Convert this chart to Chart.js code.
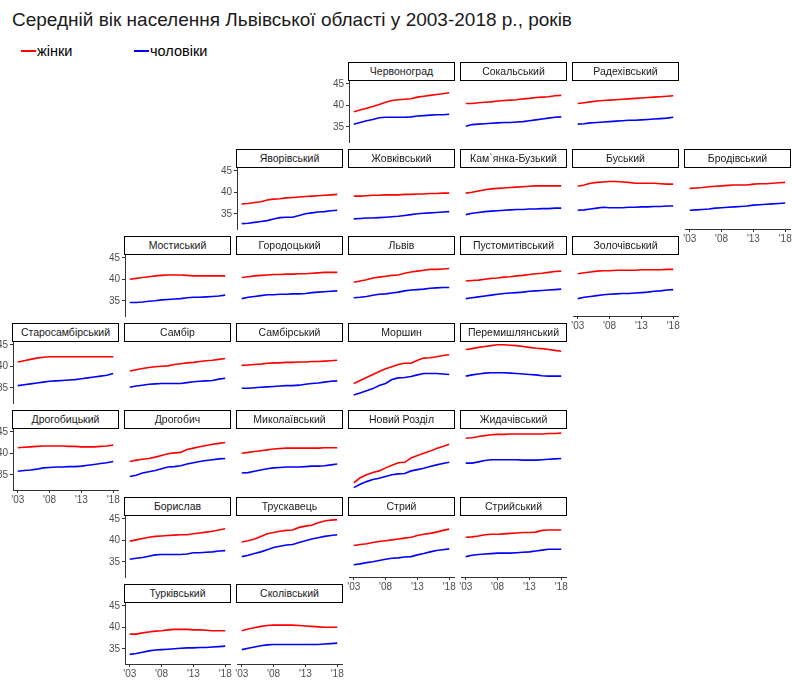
<!DOCTYPE html>
<html lang="uk">
<head>
<meta charset="UTF-8">
<title>Середній вік населення Львівської області</title>
<script src="https://cdn.jsdelivr.net/npm/chart.js"></script>
<style>
    body { margin: 0; background: #fff; font-family: "Liberation Sans", Arial, sans-serif; }
    #page { position: relative; width: 792px; height: 680px; overflow: hidden; }
    h1 { position: absolute; left: 12px; top: 9px; margin: 0; font-size: 19px; font-weight: normal; color: #1a1a1a; white-space: nowrap; }
    .legend { position: absolute; top: 43px; font-size: 14.5px; color: #000; white-space: nowrap; }
    .legend i { display: inline-block; width: 15px; height: 2px; vertical-align: middle; margin-right: 1px; position: relative; top: -1px; }
    .strip { position: absolute; box-sizing: border-box; width: 107px; height: 19px; border: 1px solid #000;
             background: #fff; font-size: 10.5px; color: #1a1a1a; text-align: center; line-height: 17px; z-index: 2; white-space: nowrap; }
    canvas { position: absolute; }
</style>
</head>
<body>
<div id="page">
    <h1>Середній вік населення Львівської області у 2003-2018 р., років</h1>
    <div class="legend" style="left:21px"><i style="background:#ff0000"></i>жінки</div>
    <div class="legend" style="left:134px"><i style="background:#0000ff"></i>чоловіки</div>
</div>

<script>
    // data
    const years = [2003, 2004, 2005, 2006, 2007, 2008, 2009, 2010, 2011, 2012, 2013, 2014, 2015, 2016, 2017, 2018];
    const xTicks = [2003, 2008, 2013, 2018];
    const yTicks = [35, 40, 45];

    const districts = [
        "Червоноград", "Сокальський", "Радехівський",
        "Яворівський", "Жовківський", "Кам`янка-Бузький", "Буський", "Бродівський",
        "Мостиський", "Городоцький", "Львів", "Пустомитівський", "Золочівський",
        "Старосамбірський", "Самбір", "Самбірський", "Моршин", "Перемишлянський",
        "Дрогобицький", "Дрогобич", "Миколаївський", "Новий Розділ", "Жидачівський",
        "Борислав", "Трускавець", "Стрий", "Стрийський",
        "Турківський", "Сколівський"
    ];

    // жінки
    const women = [
        [38.5, 38.9, 39.3, 39.7, 40.2, 40.7, 41.1, 41.3, 41.4, 41.5, 41.9, 42.1, 42.3, 42.5, 42.7, 42.9],
        [40.4, 40.4, 40.6, 40.7, 40.8, 41.0, 41.1, 41.2, 41.3, 41.5, 41.6, 41.8, 41.9, 42.0, 42.2, 42.3],
        [40.4, 40.6, 40.8, 41.0, 41.1, 41.2, 41.3, 41.4, 41.5, 41.6, 41.7, 41.8, 41.9, 42.0, 42.1, 42.2],
        [37.3, 37.4, 37.6, 37.8, 38.2, 38.4, 38.5, 38.7, 38.8, 38.9, 39.0, 39.1, 39.2, 39.3, 39.4, 39.5],
        [39.1, 39.1, 39.2, 39.3, 39.3, 39.4, 39.4, 39.4, 39.5, 39.5, 39.6, 39.6, 39.7, 39.7, 39.8, 39.8],
        [39.8, 40.0, 40.3, 40.6, 40.8, 40.9, 41.0, 41.1, 41.2, 41.3, 41.4, 41.5, 41.5, 41.5, 41.5, 41.5],
        [41.4, 41.7, 42.1, 42.3, 42.4, 42.5, 42.5, 42.4, 42.3, 42.1, 42.1, 42.1, 42.1, 42.0, 41.9, 41.9],
        [40.9, 41.0, 41.1, 41.3, 41.4, 41.5, 41.6, 41.7, 41.7, 41.7, 41.9, 42.0, 42.0, 42.1, 42.2, 42.3],
        [40.0, 40.2, 40.4, 40.6, 40.8, 40.9, 41.0, 41.0, 41.0, 40.9, 40.8, 40.8, 40.8, 40.8, 40.8, 40.8],
        [40.4, 40.6, 40.8, 40.9, 41.0, 41.1, 41.1, 41.2, 41.2, 41.3, 41.3, 41.4, 41.5, 41.6, 41.6, 41.6],
        [39.3, 39.6, 39.9, 40.3, 40.5, 40.7, 40.9, 41.0, 41.4, 41.7, 41.9, 42.1, 42.3, 42.3, 42.4, 42.5],
        [39.6, 39.7, 39.8, 40.0, 40.2, 40.3, 40.5, 40.6, 40.8, 40.9, 41.1, 41.3, 41.4, 41.6, 41.8, 41.9],
        [41.3, 41.5, 41.7, 41.9, 42.0, 42.0, 42.1, 42.1, 42.1, 42.1, 42.2, 42.2, 42.2, 42.2, 42.3, 42.3],
        [41.0, 41.3, 41.6, 41.9, 42.1, 42.2, 42.2, 42.2, 42.2, 42.2, 42.2, 42.2, 42.2, 42.2, 42.2, 42.2],
        [38.9, 39.2, 39.5, 39.7, 39.9, 40.0, 40.1, 40.4, 40.6, 40.8, 40.9, 41.1, 41.3, 41.4, 41.6, 41.8],
        [40.2, 40.3, 40.4, 40.5, 40.7, 40.8, 40.8, 40.9, 40.9, 41.0, 41.0, 41.1, 41.1, 41.2, 41.3, 41.4],
        [36.0, 36.7, 37.4, 38.1, 38.8, 39.4, 39.9, 40.4, 40.7, 40.7, 41.4, 41.9, 42.0, 42.2, 42.5, 42.7],
        [43.9, 44.1, 44.4, 44.6, 44.8, 45.0, 45.0, 44.9, 44.8, 44.6, 44.4, 44.2, 44.1, 43.9, 43.7, 43.5],
        [41.3, 41.4, 41.5, 41.6, 41.7, 41.7, 41.7, 41.7, 41.6, 41.6, 41.5, 41.5, 41.5, 41.6, 41.7, 41.9],
        [38.1, 38.4, 38.6, 38.8, 39.1, 39.5, 39.9, 40.1, 40.2, 40.9, 41.2, 41.5, 41.8, 42.1, 42.3, 42.5],
        [40.0, 40.2, 40.4, 40.6, 40.8, 41.0, 41.1, 41.2, 41.2, 41.2, 41.2, 41.2, 41.2, 41.3, 41.3, 41.3],
        [33.1, 34.3, 35.0, 35.5, 35.9, 36.6, 37.2, 37.8, 37.9, 38.9, 39.5, 40.0, 40.5, 41.1, 41.6, 42.1],
        [43.5, 43.6, 43.9, 44.1, 44.3, 44.4, 44.4, 44.5, 44.5, 44.5, 44.5, 44.5, 44.5, 44.6, 44.6, 44.7],
        [39.8, 40.1, 40.4, 40.7, 40.9, 41.0, 41.1, 41.2, 41.3, 41.3, 41.5, 41.7, 41.9, 42.1, 42.4, 42.7],
        [39.6, 39.9, 40.3, 40.9, 41.5, 41.8, 42.1, 42.3, 42.4, 43.0, 43.3, 43.5, 44.1, 44.5, 44.7, 44.8],
        [38.8, 39.0, 39.2, 39.5, 39.7, 39.9, 40.1, 40.3, 40.5, 40.7, 41.1, 41.4, 41.6, 41.9, 42.3, 42.6],
        [40.7, 40.8, 41.0, 41.3, 41.4, 41.4, 41.5, 41.6, 41.7, 41.8, 41.8, 41.9, 42.3, 42.4, 42.4, 42.4],
        [38.4, 38.4, 38.7, 38.9, 39.1, 39.2, 39.4, 39.5, 39.5, 39.5, 39.4, 39.4, 39.3, 39.2, 39.2, 39.2],
        [39.2, 39.6, 39.9, 40.2, 40.4, 40.5, 40.5, 40.5, 40.5, 40.4, 40.3, 40.2, 40.1, 40.0, 40.0, 40.0]
    ];

    // чоловіки
    const men = [
        [35.6, 36.0, 36.4, 36.7, 37.1, 37.2, 37.2, 37.2, 37.2, 37.3, 37.5, 37.6, 37.7, 37.8, 37.8, 37.9],
        [35.1, 35.5, 35.6, 35.7, 35.8, 35.9, 36.0, 36.0, 36.1, 36.2, 36.4, 36.6, 36.8, 37.0, 37.2, 37.3],
        [35.6, 35.7, 35.9, 36.0, 36.1, 36.2, 36.3, 36.4, 36.5, 36.5, 36.6, 36.7, 36.8, 36.9, 37.0, 37.2],
        [32.7, 32.8, 33.0, 33.2, 33.4, 33.8, 34.1, 34.2, 34.2, 34.6, 35.0, 35.2, 35.4, 35.5, 35.7, 35.8],
        [33.8, 33.9, 34.0, 34.0, 34.1, 34.2, 34.3, 34.4, 34.6, 34.8, 35.0, 35.1, 35.2, 35.3, 35.4, 35.5],
        [34.8, 35.1, 35.3, 35.5, 35.6, 35.7, 35.8, 35.9, 36.0, 36.0, 36.1, 36.1, 36.2, 36.2, 36.3, 36.3],
        [35.8, 35.9, 36.1, 36.3, 36.5, 36.4, 36.4, 36.4, 36.5, 36.5, 36.6, 36.6, 36.7, 36.7, 36.8, 36.8],
        [35.8, 35.9, 36.0, 36.1, 36.3, 36.4, 36.5, 36.6, 36.7, 36.8, 37.0, 37.1, 37.2, 37.3, 37.4, 37.5],
        [34.6, 34.6, 34.7, 34.9, 35.0, 35.2, 35.3, 35.4, 35.5, 35.7, 35.8, 35.8, 35.9, 36.0, 36.1, 36.3],
        [35.5, 35.8, 36.0, 36.2, 36.4, 36.4, 36.5, 36.5, 36.6, 36.6, 36.7, 36.9, 37.0, 37.1, 37.2, 37.3],
        [35.7, 35.8, 36.0, 36.3, 36.5, 36.6, 36.8, 37.0, 37.3, 37.5, 37.6, 37.7, 37.9, 38.0, 38.1, 38.1],
        [35.5, 35.7, 35.9, 36.1, 36.3, 36.5, 36.7, 36.8, 36.9, 37.0, 37.2, 37.3, 37.4, 37.5, 37.6, 37.7],
        [35.5, 35.8, 36.0, 36.2, 36.4, 36.5, 36.6, 36.7, 36.7, 36.8, 36.9, 37.0, 37.2, 37.3, 37.5, 37.6],
        [35.5, 35.7, 35.9, 36.1, 36.3, 36.5, 36.6, 36.7, 36.8, 36.9, 37.1, 37.3, 37.5, 37.7, 37.9, 38.3],
        [35.1, 35.4, 35.6, 35.8, 35.9, 36.0, 36.0, 36.0, 36.0, 36.2, 36.4, 36.5, 36.6, 36.7, 37.0, 37.2],
        [34.9, 34.9, 35.0, 35.1, 35.2, 35.3, 35.4, 35.5, 35.5, 35.6, 35.8, 36.0, 36.1, 36.3, 36.5, 36.6],
        [33.3, 33.8, 34.3, 34.8, 35.5, 36.0, 36.9, 37.3, 37.4, 37.6, 38.0, 38.3, 38.3, 38.3, 38.2, 38.1],
        [37.7, 38.0, 38.2, 38.4, 38.5, 38.5, 38.5, 38.4, 38.3, 38.2, 38.1, 38.0, 37.8, 37.7, 37.7, 37.7],
        [35.8, 36.0, 36.1, 36.3, 36.6, 36.7, 36.8, 36.8, 36.9, 36.9, 37.0, 37.2, 37.4, 37.6, 37.8, 38.1],
        [34.6, 34.9, 35.4, 35.7, 36.0, 36.4, 36.8, 36.9, 37.1, 37.5, 37.8, 38.1, 38.3, 38.5, 38.7, 38.8],
        [35.4, 35.5, 35.8, 36.1, 36.4, 36.6, 36.7, 36.8, 36.8, 36.8, 36.9, 37.0, 37.0, 37.1, 37.3, 37.5],
        [32.0, 32.8, 33.4, 33.9, 34.2, 34.6, 35.0, 35.2, 35.3, 35.9, 36.2, 36.5, 36.9, 37.3, 37.6, 37.9],
        [37.7, 37.7, 38.0, 38.3, 38.5, 38.5, 38.5, 38.5, 38.5, 38.4, 38.4, 38.4, 38.5, 38.6, 38.7, 38.8],
        [35.6, 35.8, 36.0, 36.3, 36.6, 36.7, 36.7, 36.7, 36.7, 36.8, 37.1, 37.1, 37.2, 37.3, 37.5, 37.6],
        [36.2, 36.5, 36.9, 37.3, 37.8, 38.3, 38.6, 38.9, 39.0, 39.5, 39.9, 40.3, 40.6, 40.9, 41.1, 41.3],
        [34.3, 34.5, 34.8, 35.0, 35.3, 35.6, 35.8, 35.9, 36.1, 36.2, 36.6, 36.9, 37.3, 37.6, 37.8, 38.0],
        [36.2, 36.5, 36.7, 36.8, 36.9, 37.0, 37.0, 37.0, 37.1, 37.2, 37.3, 37.5, 37.7, 37.9, 37.9, 37.9],
        [33.7, 33.9, 34.2, 34.5, 34.7, 34.8, 34.9, 35.0, 35.1, 35.2, 35.2, 35.3, 35.3, 35.4, 35.5, 35.6],
        [34.8, 35.1, 35.4, 35.7, 35.9, 36.0, 36.0, 36.0, 36.0, 36.0, 36.0, 36.0, 36.0, 36.1, 36.2, 36.3]
    ];

    // [row, col] of each district in the map-like grid
    const cells = [
        [0, 3], [0, 4], [0, 5],
        [1, 2], [1, 3], [1, 4], [1, 5], [1, 6],
        [2, 1], [2, 2], [2, 3], [2, 4], [2, 5],
        [3, 0], [3, 1], [3, 2], [3, 3], [3, 4],
        [4, 0], [4, 1], [4, 2], [4, 3], [4, 4],
        [5, 1], [5, 2], [5, 3], [5, 4],
        [6, 1], [6, 2]
    ];

    // layout
    const COL0 = 13.3, COLW = 111.9;
    const ROW0 = 80.5, ROWH = 87.1;
    const PW = 105, PH = 61;
    const PADL = 22, PADR = 6, PADT = 6, PADB = 16;
    const Y_MIN = 31.45, Y_MAX = 45.65;

    const page = document.getElementById("page");

    districts.forEach((name, i) => {
        const [r, c] = cells[i];
        const left = Math.round(COL0 + c * COLW);
        const top = Math.round(ROW0 + r * ROWH);
        const showY = !cells.some(([rr, cc]) => rr === r && cc < c);
        const showX = !cells.some(([rr, cc]) => cc === c && rr === r + 1);

        const strip = document.createElement("div");
        strip.className = "strip";
        strip.style.left = (left - 1) + "px";
        strip.style.top = (top - 19) + "px";
        strip.textContent = name;
        page.appendChild(strip);

        const canvas = document.createElement("canvas");
        canvas.width = PADL + PW + PADR;
        canvas.height = PADT + PH + PADB;
        canvas.style.left = (left - PADL) + "px";
        canvas.style.top = (top - PADT) + "px";
        page.appendChild(canvas);

        new Chart(canvas.getContext("2d"), {
            type: "line",
            data: {
                datasets: [
                    { label: "жінки", data: years.map((y, k) => ({ x: y, y: women[i][k] })),
                      borderColor: "#ff0000", borderWidth: 1.6, pointRadius: 0, tension: 0 },
                    { label: "чоловіки", data: years.map((y, k) => ({ x: y, y: men[i][k] })),
                      borderColor: "#0000ff", borderWidth: 1.6, pointRadius: 0, tension: 0 }
                ]
            },
            options: {
                responsive: false,
                animation: false,
                devicePixelRatio: 1,
                layout: { padding: { top: PADT, right: PADR, left: 0, bottom: 0 } },
                plugins: { legend: { display: false }, tooltip: { enabled: false } },
                scales: {
                    x: {
                        type: "linear", min: 2002.25, max: 2018.75,
                        afterBuildTicks: s => { s.ticks = xTicks.map(v => ({ value: v })); },
                        afterFit: s => { s.height = PADB; s.paddingLeft = 0; s.paddingRight = 0; },
                        ticks: { display: showX, autoSkip: false, maxRotation: 0, padding: 1,
                                 color: "#4d4d4d", font: { size: 10, family: "Liberation Sans" },
                                 callback: v => "'" + String(v).slice(2) },
                        grid: { drawOnChartArea: false, drawTicks: showX, tickLength: 3, color: "#333" },
                        border: { display: showX, color: "#333", width: 1 }
                    },
                    y: {
                        min: Y_MIN, max: Y_MAX,
                        afterBuildTicks: s => { s.ticks = yTicks.map(v => ({ value: v })); },
                        afterFit: s => { s.width = PADL; s.paddingTop = 0; s.paddingBottom = 0; },
                        ticks: { display: showY, padding: 2, color: "#4d4d4d",
                                 font: { size: 10, family: "Liberation Sans" }, callback: v => v },
                        grid: { drawOnChartArea: false, drawTicks: showY, tickLength: 3, color: "#333" },
                        border: { display: showY, color: "#333", width: 1 }
                    }
                }
            }
        });
    });
</script>
</body>
</html>
